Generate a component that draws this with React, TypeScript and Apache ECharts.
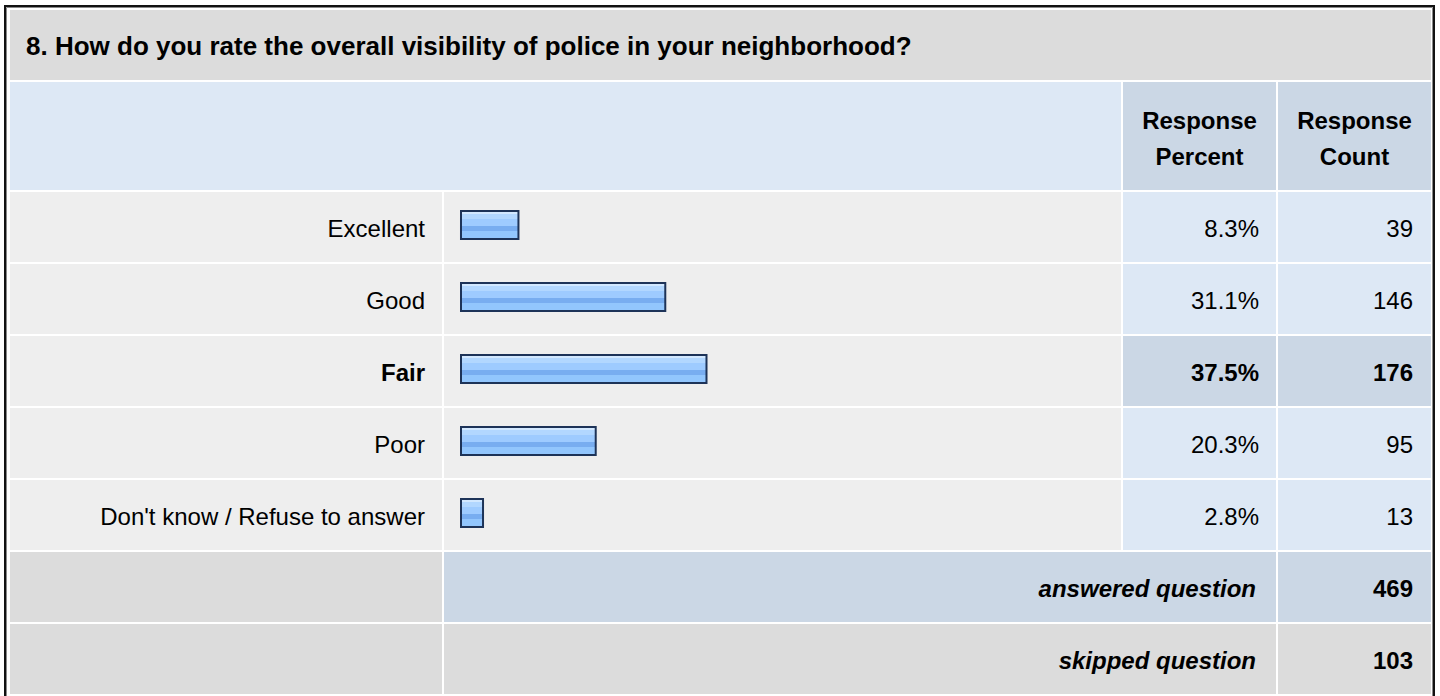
import React, { useEffect, useRef } from "react";
import * as echarts from "echarts";

// ---- data ----
const title = "8. How do you rate the overall visibility of police in your neighborhood?";
const categories = ["Excellent", "Good", "Fair", "Poor", "Don't know / Refuse to answer"];
const percents = [8.3, 31.1, 37.5, 20.3, 2.8];
const counts = [39, 146, 176, 95, 13];
const headerPercent = "Response\nPercent";
const headerCount = "Response\nCount";
const answeredLabel = "answered question";
const skippedLabel = "skipped question";
const answeredCount = 469;
const skippedCount = 103;

// ---- layout ----
const W = 1440;
const H = 696;
const FONT = '"Liberation Sans", Arial, Helvetica, sans-serif';
const COL_LABEL = [10, 442];
const COL_BAR = [444, 1121];
const COL_PCT = [1123, 1276];
const COL_CNT = [1278, 1431];
const TITLE_ROW = [10, 80];
const HEAD_ROW = [82, 190];
const ROW0 = 192;
const ROW_H = 70;
const ROW_PITCH = 72;
const AXIS_MIN = -0.62;

const C_GREY = "#dcdcdc";
const C_LIGHT = "#eeeeee";
const C_BLUE = "#dde8f5";
const C_BLUE_D = "#cbd7e5";

function rect(x0: number, x1: number, y0: number, y1: number, fill: string) {
  return {
    type: "rect",
    silent: true,
    shape: { x: x0, y: y0, width: x1 - x0, height: y1 - y0 },
    style: { fill },
    z: 0,
  };
}

function text(
  str: string,
  x: number,
  y: number,
  align: string,
  weight: string,
  size: number,
  italic = false,
  lineHeight?: number
) {
  return {
    type: "text",
    silent: true,
    z: 10,
    style: {
      text: str,
      x,
      y,
      font: `${italic ? "italic " : ""}${weight} ${size}px ${FONT}`,
      fill: "#000",
      textAlign: align,
      align,
      textVerticalAlign: "middle",
      verticalAlign: "middle",
      lineHeight,
    },
  };
}

export default function App() {
  const ref = useRef<HTMLDivElement>(null);

  useEffect(() => {
    if (!ref.current) return;
    const chart = echarts.init(ref.current, undefined, { renderer: "svg" });

    const maxIdx = percents.indexOf(Math.max(...percents));
    const els: any[] = [];

    // outer frame
    els.push({
      type: "rect",
      silent: true,
      z: 20,
      shape: { x: 5, y: 6, width: 1429, height: 760 },
      style: { fill: "none", stroke: "#111", lineWidth: 2 },
    });
    els.push({
      type: "rect",
      silent: true,
      z: 20,
      shape: { x: 6.5, y: 7.5, width: 1426, height: 760 },
      style: { fill: "none", stroke: "#888", lineWidth: 1 },
    });

    // title row
    els.push(rect(COL_LABEL[0], COL_CNT[1], TITLE_ROW[0], TITLE_ROW[1], C_GREY));
    els.push(text(title, 26, (TITLE_ROW[0] + TITLE_ROW[1]) / 2 + 1, "left", "bold", 26));

    // header row
    els.push(rect(COL_LABEL[0], COL_BAR[1], HEAD_ROW[0], HEAD_ROW[1], C_BLUE));
    els.push(rect(COL_PCT[0], COL_PCT[1], HEAD_ROW[0], HEAD_ROW[1], C_BLUE_D));
    els.push(rect(COL_CNT[0], COL_CNT[1], HEAD_ROW[0], HEAD_ROW[1], C_BLUE_D));
    const hy = (HEAD_ROW[0] + HEAD_ROW[1]) / 2 + 2;
    els.push(text(headerPercent, (COL_PCT[0] + COL_PCT[1]) / 2, hy, "center", "bold", 24, false, 36));
    els.push(text(headerCount, (COL_CNT[0] + COL_CNT[1]) / 2, hy, "center", "bold", 24, false, 36));

    // data rows
    categories.forEach((cat, i) => {
      const y0 = ROW0 + i * ROW_PITCH;
      const y1 = y0 + ROW_H;
      const cy = (y0 + y1) / 2 + 1;
      const hi = i === maxIdx;
      const w = hi ? "bold" : "normal";
      els.push(rect(COL_LABEL[0], COL_LABEL[1], y0, y1, C_LIGHT));
      els.push(rect(COL_BAR[0], COL_BAR[1], y0, y1, C_LIGHT));
      els.push(rect(COL_PCT[0], COL_PCT[1], y0, y1, hi ? C_BLUE_D : C_BLUE));
      els.push(rect(COL_CNT[0], COL_CNT[1], y0, y1, hi ? C_BLUE_D : C_BLUE));
      els.push(text(cat, COL_LABEL[1] - 17, cy, "right", w, 24));
      els.push(text(percents[i].toFixed(1) + "%", COL_PCT[1] - 17, cy, "right", w, 24));
      els.push(text(String(counts[i]), COL_CNT[1] - 18, cy, "right", w, 24));
    });

    // answered row
    {
      const i = categories.length;
      const y0 = ROW0 + i * ROW_PITCH;
      const y1 = y0 + ROW_H;
      const cy = (y0 + y1) / 2 + 1;
      els.push(rect(COL_LABEL[0], COL_LABEL[1], y0, y1, C_GREY));
      els.push(rect(COL_BAR[0], COL_PCT[1], y0, y1, C_BLUE_D));
      els.push(rect(COL_CNT[0], COL_CNT[1], y0, y1, C_BLUE_D));
      els.push(text(answeredLabel, COL_PCT[1] - 20, cy, "right", "bold", 24, true));
      els.push(text(String(answeredCount), COL_CNT[1] - 18, cy, "right", "bold", 24));
    }
    // skipped row
    {
      const i = categories.length + 1;
      const y0 = ROW0 + i * ROW_PITCH;
      const y1 = y0 + ROW_H;
      const cy = (y0 + y1) / 2 + 1;
      els.push(rect(COL_LABEL[0], COL_LABEL[1], y0, y1, C_GREY));
      els.push(rect(COL_BAR[0], COL_PCT[1], y0, y1, C_GREY));
      els.push(rect(COL_CNT[0], COL_CNT[1], y0, y1, C_GREY));
      els.push(text(skippedLabel, COL_PCT[1] - 20, cy, "right", "bold", 24, true));
      els.push(text(String(skippedCount), COL_CNT[1] - 18, cy, "right", "bold", 24));
    }

    const barFill = new echarts.graphic.LinearGradient(0, 0, 0, 1, [
      { offset: 0, color: "#d2e8ff" },
      { offset: 0.12, color: "#d2e8ff" },
      { offset: 0.12, color: "#b2d7ff" },
      { offset: 0.28, color: "#b2d7ff" },
      { offset: 0.28, color: "#9ecbff" },
      { offset: 0.55, color: "#9ecbff" },
      { offset: 0.55, color: "#78adf0" },
      { offset: 0.72, color: "#78adf0" },
      { offset: 0.72, color: "#92c6fd" },
      { offset: 1, color: "#92c6fd" },
    ]);

    chart.setOption({
      animation: false,
      backgroundColor: "#ffffff",
      grid: { left: 461, top: 190, width: 648, height: 360, containLabel: false },
      xAxis: { type: "value", min: AXIS_MIN, max: 100, show: false },
      yAxis: { type: "category", data: categories, inverse: true, show: false },
      graphic: { elements: els },
      series: [
        {
          type: "custom",
          z: 15,
          encode: { x: 0, y: 1 },
          data: percents.map((p, i) => [p, i]),
          renderItem: (_params: any, api: any) => {
            const v = api.value(0);
            const idx = api.value(1);
            const start = api.coord([AXIS_MIN, idx]);
            const end = api.coord([v, idx]);
            const h = 28;
            return {
              type: "rect",
              shape: { x: start[0], y: start[1] - h / 2 - 1, width: end[0] - start[0], height: h },
              style: { fill: barFill, stroke: "#1d3358", lineWidth: 2 },
            };
          },
        },
      ],
    });

    return () => chart.dispose();
  }, []);

  return (
    <div
      ref={ref}
      style={{ position: "fixed", left: 0, top: 0, width: W, height: H, background: "#fff" }}
    />
  );
}
